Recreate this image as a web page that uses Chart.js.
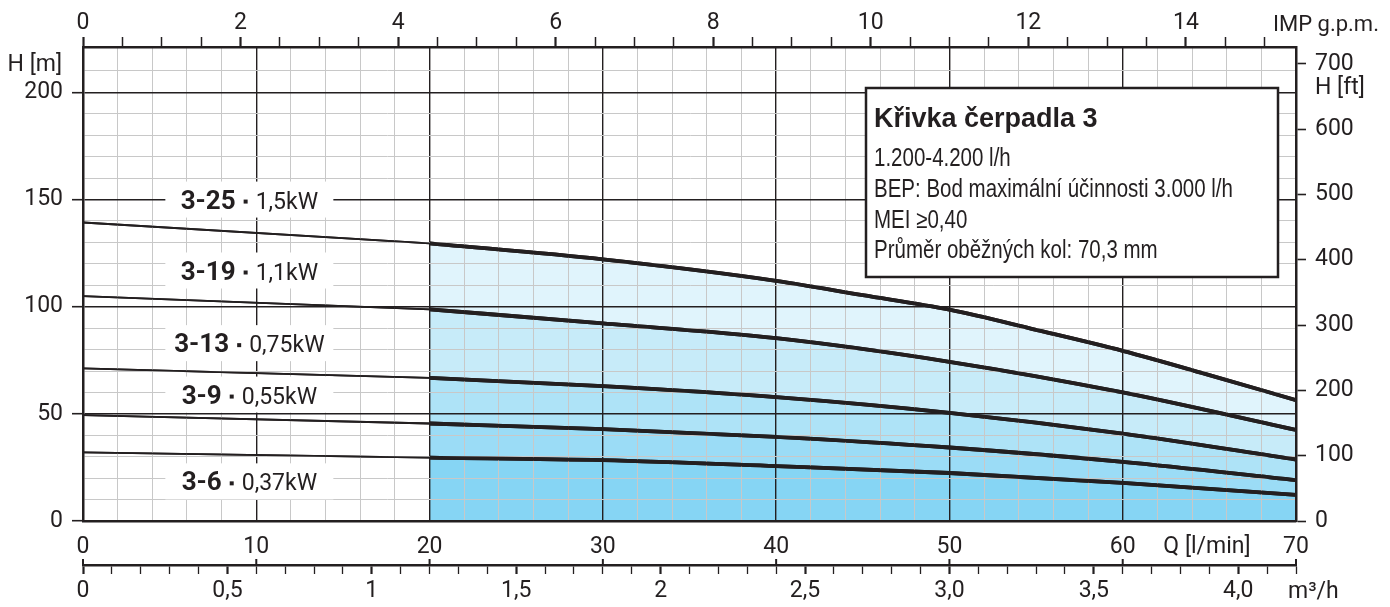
<!DOCTYPE html>
<html>
<head>
<meta charset="utf-8">
<script src="https://cdn.jsdelivr.net/npm/chart.js@4.4.1/dist/chart.umd.min.js"></script>
<style>
  html, body { margin: 0; padding: 0; background: #fff; }
  #wrap { width: 1390px; height: 607px; }
</style>
</head>
<body>
<div id="wrap"><canvas id="pumpChart"></canvas></div>
<script>
// Pump curves, H [m] over Q [l/min]
const qThin = [0, 20];
const qPump = [20, 30, 40, 50, 60, 70];
const qPump25 = [20, 30, 40, 45, 50, 55, 60, 65, 70];
const pumpNames = ['3-25', '3-19', '3-13', '3-9', '3-6'];
const pumpPower = ['1,5kW', '1,1kW', '0,75kW', '0,55kW', '0,37kW'];
const hAtZero = [139.3, 104.9, 71.2, 49.4, 32.0];
const h3_25 = [129.6, 122.1, 112.1, 105.4, 98.6, 89.2, 79.4, 68.1, 56.4];
const h3_19 = [98.8, 92.2, 85.3, 74.3, 60.0, 42.5];
const h3_13 = [66.8, 62.9, 57.8, 50.5, 40.8, 28.7];
const h3_9 = [45.5, 42.9, 39.3, 34.3, 27.6, 19.1];
const h3_6 = [29.6, 28.4, 25.6, 22.4, 17.8, 12.2];
const pumpQ = [qPump25, qPump, qPump, qPump, qPump];
const pumpH = [h3_25, h3_19, h3_13, h3_9, h3_6];

// axis labels
const qLabels = [0, 10, 20, 30, 40, 50, 60, 70];
const hLabels = [0, 50, 100, 150, 200];
const ftLabels = [0, 100, 200, 300, 400, 500, 600, 700];
const gpmLabels = [0, 2, 4, 6, 8, 10, 12, 14];
const m3Major = [0, 0.5, 1, 1.5, 2, 2.5, 3, 3.5, 4];
const m3Labels = ['0', '0,5', '1', '1,5', '2', '2,5', '3,0', '3,5', '4,0'];

const qMax = 70;
const hMax = 221.2;
const ftMax = hMax * 3.28084;
const gpmMax = qMax / 4.54609;
const m3Max = qMax * 60 / 1000;

const fillColors = ['#e0f4fc', '#c7ebf9', '#aee3f7', '#9bdcf6', '#86d5f4'];
const dark = '#231f20';
const gridGray = '#c8c8c8';
const axisFont = { family: 'Roboto', size: 23 };

function steps(from, to, div) {
    // tick positions from/div .. to/div
    const out = [];
    for (let i = from; i <= to; i++) out.push(i / div);
    return out;
}
const near = (list, v) => list.some(t => Math.abs(t - v) < 1e-6);

const datasets = [];
pumpNames.forEach((name, i) => {
    datasets.push({
        label: name,
        data: pumpQ[i].map((q, j) => ({ x: q, y: pumpH[i][j] })),
        borderColor: dark,
        borderWidth: 3.8,
        backgroundColor: fillColors[i],
        fill: i < pumpNames.length - 1 ? '+1' : 'origin',
        cubicInterpolationMode: 'monotone',
        pointRadius: 0
    });
});
pumpNames.forEach((name, i) => {
    datasets.push({
        label: name + ' 0-20',
        data: [{ x: qThin[0], y: hAtZero[i] }, { x: qThin[1], y: pumpH[i][0] }],
        borderColor: dark,
        borderWidth: 1.8,
        fill: false,
        pointRadius: 0
    });
});

// labels, info box and extra texts on top of the grid
const overlay = {
    id: 'overlay',
    afterDraw(chart) {
        const { ctx, scales } = chart;
        chart.data.datasets.forEach((d, i) => chart.getDatasetMeta(i).controller.draw());

        ctx.save();
        // curve labels
        const labelQ = 9.6;
        const labelH = [150, 116.9, 83, 59, 18.5];
        pumpNames.forEach((name, i) => {
            const cx = scales.x.getPixelForValue(labelQ);
            const cy = scales.y.getPixelForValue(labelH[i]);
            ctx.fillStyle = '#fff';
            ctx.fillRect(cx - 84, cy - 18, 168, 36);
            ctx.font = 'bold 26px Roboto';
            const w1 = ctx.measureText(name).width;
            ctx.font = '23px Roboto';
            const w2 = ctx.measureText(pumpPower[i]).width;
            const total = w1 + 20 + w2;
            const x = cx - total / 2;
            const base = cy + 9;
            ctx.fillStyle = dark;
            ctx.textBaseline = 'alphabetic';
            ctx.textAlign = 'left';
            ctx.font = 'bold 26px Roboto';
            ctx.fillText(name, x, base);
            ctx.fillRect(x + w1 + 8, base - 9, 4, 4);
            ctx.font = '23px Roboto';
            ctx.fillText(pumpPower[i], x + w1 + 20, base);
        });

        // info box
        ctx.fillStyle = '#fff';
        ctx.fillRect(866, 88, 412, 189);
        ctx.strokeStyle = dark;
        ctx.lineWidth = 2.5;
        ctx.strokeRect(866, 88, 412, 189);
        ctx.fillStyle = dark;
        ctx.font = 'bold 27px "Liberation Sans", Arial, sans-serif';
        ctx.fillText('Křivka čerpadla 3', 874, 127);
        ctx.font = '25px "Liberation Sans", Arial, sans-serif';
        const narrow = (text, y) => {
            ctx.save();
            ctx.translate(874, y);
            ctx.scale(0.82, 1);
            ctx.fillText(text, 0, 0);
            ctx.restore();
        };
        narrow('1.200-4.200 l/h', 166);
        narrow('BEP: Bod maximální účinnosti 3.000 l/h', 197);
        narrow('MEI ≥0,40', 228);
        narrow('Průměr oběžných kol: 70,3 mm', 258);

        // axis titles
        ctx.font = '23px Roboto';
        ctx.textBaseline = 'middle';
        ctx.textAlign = 'right';
        ctx.fillText('H [m]', 62, 65);
        ctx.textAlign = 'left';
        ctx.fillText('H [ft]', 1315, 88);
        ctx.font = '22px Roboto';
        ctx.fillText('IMP g.p.m.', 1273, 25);
        ctx.font = '23px Roboto';
        ctx.textAlign = 'center';
        ctx.fillText('Q [l/min]', 1207, 547);
        ctx.textAlign = 'left';
        ctx.fillText('m³/h', 1288, 592);

        // l/min marks on the m3/h line
        ctx.strokeStyle = dark;
        ctx.lineWidth = 2;
        qLabels.forEach(q => {
            const px = scales.x.getPixelForValue(q);
            ctx.beginPath();
            ctx.moveTo(px, scales.x3.top + 1);
            ctx.lineTo(px, scales.x3.top - 6);
            ctx.stroke();
        });
        ctx.restore();
    }
};

const ctx = document.getElementById('pumpChart');
const pumpChart = new Chart(ctx, {
    type: 'line',
    data: { datasets: datasets },
    options: {
        responsive: true,
        maintainAspectRatio: false,
        animation: false,
        events: [],
        layout: { padding: 0 },
        plugins: {
            legend: { display: false },
            tooltip: { enabled: false },
            filler: { drawTime: 'beforeDatasetsDraw' }
        },
        scales: {
            x: {
                type: 'linear', position: 'bottom', weight: 0, min: 0, max: qMax,
                afterBuildTicks: s => { s.ticks = steps(0, 35, 0.5).map(v => ({ value: v })); },
                afterFit: s => { s.height = 44; },
                ticks: {
                    autoSkip: false, maxRotation: 0, padding: 12, font: axisFont, color: dark,
                    callback: v => qLabels.includes(v) ? String(v) : ''
                },
                grid: {
                    z: 1, drawTicks: false,
                    color: c => c.tick && c.tick.value % 10 === 0 ? dark : gridGray,
                    lineWidth: c => c.tick && c.tick.value % 10 === 0 ? 1.4 : 1
                },
                border: { z: 2, color: dark, width: 2.5 }
            },
            x3: {
                type: 'linear', position: 'bottom', weight: 1, min: 0, max: m3Max,
                afterBuildTicks: s => { s.ticks = steps(0, 42, 10).map(v => ({ value: v })); },
                afterFit: s => { s.height = 42; },
                ticks: {
                    autoSkip: false, maxRotation: 0, padding: 3, font: axisFont, color: dark,
                    callback: v => {
                        const k = m3Major.findIndex(t => Math.abs(t - v) < 1e-6);
                        return k >= 0 ? m3Labels[k] : '';
                    }
                },
                grid: {
                    drawOnChartArea: false, tickLength: 9, tickColor: dark,
                    tickWidth: c => c.tick && near(m3Major, c.tick.value) ? 2.2 : 1.3
                },
                border: { color: dark, width: 2.5 }
            },
            x2: {
                type: 'linear', position: 'top', min: 0, max: gpmMax,
                afterBuildTicks: s => { s.ticks = steps(0, 30, 2).map(v => ({ value: v })); },
                afterFit: s => { s.height = 47; },
                ticks: {
                    autoSkip: false, maxRotation: 0, padding: 0, font: axisFont, color: dark,
                    callback: v => gpmLabels.includes(v) ? String(v) : ''
                },
                grid: {
                    drawOnChartArea: false, tickLength: 10, tickColor: dark,
                    tickWidth: c => c.tick && gpmLabels.includes(c.tick.value) ? 2.2 : 1.5
                },
                border: { z: 2, color: dark, width: 2.5 }
            },
            y: {
                type: 'linear', position: 'left', min: 0, max: hMax,
                afterBuildTicks: s => { s.ticks = steps(0, 21, 0.1).map(v => ({ value: v })); },
                afterFit: s => { s.width = 83; },
                ticks: {
                    autoSkip: false, padding: 9, font: axisFont, color: dark,
                    callback: v => hLabels.includes(v) ? String(v) : ''
                },
                grid: {
                    z: 1, tickLength: 11,
                    color: c => c.tick && c.tick.value % 50 === 0 ? dark : gridGray,
                    lineWidth: c => c.tick && c.tick.value % 50 === 0 ? 1.4 : 1,
                    tickColor: c => c.tick && c.tick.value % 50 === 0 ? dark : 'rgba(0,0,0,0)',
                    tickWidth: 1.6
                },
                border: { z: 2, color: dark, width: 2.5 }
            },
            y2: {
                type: 'linear', position: 'right', min: 0, max: ftMax,
                afterBuildTicks: s => { s.ticks = ftLabels.map(v => ({ value: v })); },
                afterFit: s => { s.width = 94; },
                ticks: { autoSkip: false, padding: 9, font: axisFont, color: dark },
                grid: { drawOnChartArea: false, tickLength: 10, tickColor: dark, tickWidth: 1.6 },
                border: { z: 2, color: dark, width: 2.5 }
            }
        }
    },
    plugins: [overlay]
});
</script>
</body>
</html>
